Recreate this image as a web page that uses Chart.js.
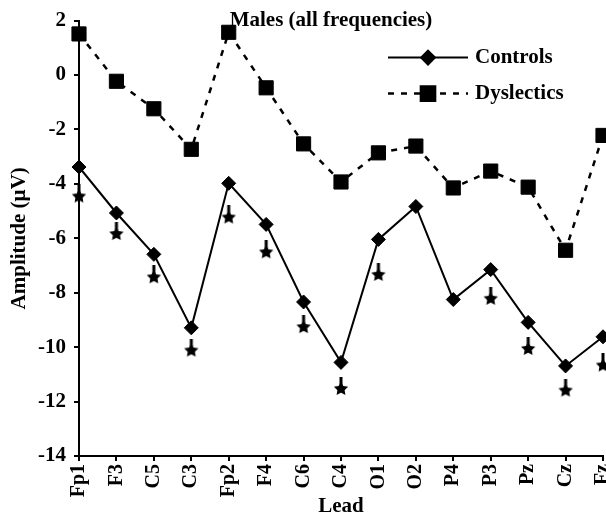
<!DOCTYPE html>
<html>
<head>
<meta charset="utf-8">
<script src="https://cdn.jsdelivr.net/npm/chart.js@4/dist/chart.umd.min.js"></script>
<style>
  html, body { margin: 0; padding: 0; background: #fff; }
  #wrap { width: 606px; height: 519px; }
</style>
</head>
<body>
<div id="wrap"><canvas id="chart" width="606" height="519"></canvas></div>
<script>
const leads = ['Fp1', 'F3', 'C5', 'C3', 'Fp2', 'F4', 'C6', 'C4', 'O1', 'O2', 'P4', 'P3', 'Pz', 'Cz', 'Fz'];
const controls = [-3.38, -5.07, -6.59, -9.29, -3.98, -5.49, -8.34, -10.56, -6.04, -4.83, -8.25, -7.15, -9.09, -10.69, -9.62];
const dyslectics = [1.51, -0.23, -1.24, -2.73, 1.57, -0.47, -2.53, -3.93, -2.86, -2.61, -4.15, -3.53, -4.12, -6.44, -2.22];
// significance markers, none for O2 and P4
const stars = [-4.39, -5.77, -7.36, -10.05, -5.16, -6.44, -9.19, -11.46, -7.27, null, null, -8.15, -9.99, -11.52, -10.6];
const yTicks = [2, 0, -2, -4, -6, -8, -10, -12, -14];

const FONT = "'Liberation Serif', 'Times New Roman', serif";

// filled star with a short stem on its top point
function makeStar() {
  const c = document.createElement('canvas');
  c.width = 16; c.height = 20;
  const g = c.getContext('2d');
  g.fillStyle = '#000';
  const cx = 8, cy = 12, R = 7.5, r = 3.8;
  g.beginPath();
  for (let i = 0; i < 10; i++) {
    const a = -Math.PI / 2 + i * Math.PI / 5;
    const rad = i % 2 ? r : R;
    g.lineTo(cx + rad * Math.cos(a), cy + rad * Math.sin(a));
  }
  g.closePath();
  g.fill();
  g.fillRect(6.5, 0, 3, 9);
  return c;
}

const legendItems = [
  { text: 'Controls', dash: [], style: 'rectRot', radius: 7, width: 2 },
  { text: 'Dyslectics', dash: [6, 7], style: 'rect', radius: 10, width: 2.5 }
];

const overlay = {
  id: 'overlay',
  afterDraw(chart) {
    const { ctx, chartArea } = chart;
    ctx.save();
    ctx.fillStyle = '#000';
    ctx.font = 'bold 21px ' + FONT;
    ctx.textAlign = 'center';
    ctx.textBaseline = 'middle';
    ctx.fillText('Males (all frequencies)', chartArea.left + 252, chartArea.top);

    legendItems.forEach((it, i) => {
      const y = chartArea.top + 37 + i * 36;
      const x0 = chartArea.left + 309, x1 = chartArea.left + 389;
      ctx.strokeStyle = '#000';
      ctx.lineWidth = it.width;
      ctx.setLineDash(it.dash);
      ctx.beginPath();
      ctx.moveTo(x0, y);
      ctx.lineTo(x1, y);
      ctx.stroke();
      ctx.setLineDash([]);
      ctx.fillStyle = '#000';
      Chart.helpers.drawPoint(ctx, { pointStyle: it.style, radius: it.radius, borderWidth: 1 }, (x0 + x1) / 2, y);
      ctx.font = 'bold 21px ' + FONT;
      ctx.textAlign = 'left';
      ctx.fillText(it.text, x1 + 7, y);
    });
    ctx.restore();
  }
};

new Chart(document.getElementById('chart'), {
  type: 'line',
  data: {
    labels: leads,
    datasets: [
      {
        label: 'Controls',
        data: controls,
        borderColor: '#000',
        backgroundColor: '#000',
        borderWidth: 2,
        pointStyle: 'rectRot',
        pointRadius: 7,
        pointBorderWidth: 1,
        clip: false
      },
      {
        label: 'Dyslectics',
        data: dyslectics,
        borderColor: '#000',
        backgroundColor: '#000',
        borderWidth: 2.5,
        borderDash: [6, 7],
        pointStyle: 'rect',
        pointRadius: 10,
        pointBorderWidth: 1,
        clip: false
      },
      {
        label: 'p',
        data: stars,
        showLine: false,
        pointStyle: makeStar(),
        clip: false
      }
    ]
  },
  options: {
    responsive: false,
    animation: false,
    devicePixelRatio: 1,
    // markers at Fz run off the right edge of the canvas
    layout: { autoPadding: false, padding: { left: 0, right: 3, top: 20, bottom: 0 } },
    plugins: {
      legend: { display: false },
      tooltip: { enabled: false }
    },
    scales: {
      x: {
        type: 'category',
        offset: false,
        afterFit(scale) {
          scale.height = 63;
          scale.paddingLeft = 0;
          scale.paddingRight = 0;
        },
        grid: { drawOnChartArea: false, drawTicks: true, tickLength: 5, color: '#000', lineWidth: 2 },
        border: { color: '#000', width: 2 },
        ticks: {
          autoSkip: false, maxRotation: 90, minRotation: 90, padding: 3,
          color: '#000', font: { family: FONT, size: 20, weight: 'bold' }
        },
        title: {
          display: true, text: 'Lead', color: '#000',
          padding: { top: 0, bottom: 0 },
          font: { family: FONT, size: 21, weight: 'bold' }
        }
      },
      y: {
        min: -14,
        max: 2,
        afterFit(scale) { scale.width = 79; },
        afterBuildTicks(scale) { scale.ticks = yTicks.map(v => ({ value: v })); },
        grid: { drawOnChartArea: false, drawTicks: true, tickLength: 5, color: '#000', lineWidth: 2 },
        border: { color: '#000', width: 2 },
        ticks: {
          padding: 8, color: '#000',
          font: { family: FONT, size: 21, weight: 'bold' }
        },
        title: {
          display: true, text: 'Amplitude (µV)', color: '#000',
          padding: { top: 7, bottom: 0 },
          font: { family: FONT, size: 21, weight: 'bold' }
        }
      }
    }
  },
  plugins: [overlay]
});
</script>
</body>
</html>
